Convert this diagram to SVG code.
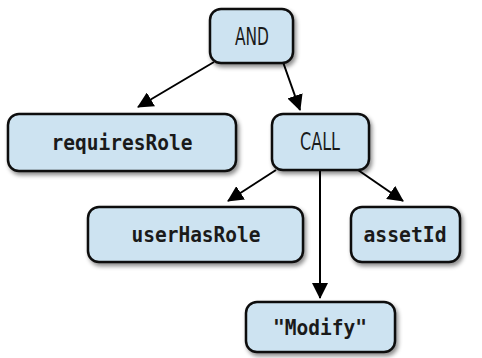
<svg xmlns="http://www.w3.org/2000/svg" width="482" height="358" viewBox="0 0 482 358">
<defs>
<filter id="sh" x="-20%" y="-20%" width="150%" height="160%">
<feDropShadow dx="2" dy="3" stdDeviation="2" flood-color="#000" flood-opacity="0.45"/>
</filter>
<marker id="ah" markerWidth="16" markerHeight="16" viewBox="0 0 16 16" refX="15" refY="8" orient="auto" markerUnits="userSpaceOnUse">
<path d="M0,0 L16,8 L0,16 Z" fill="#000"/>
</marker>
<style>
.box{fill:#cde3f1;stroke:#111;stroke-width:2.5;filter:url(#sh)}
.mono{font-family:"DejaVu Sans Mono","Liberation Mono",monospace;font-weight:bold;font-size:22px;fill:#1a1a1a;text-anchor:middle}
.cond{font-family:"DejaVu Sans","Liberation Sans",sans-serif;font-size:24px;fill:#1a1a1a;text-anchor:middle}
.edge{stroke:#000;stroke-width:2;fill:none;marker-end:url(#ah)}
</style>
</defs>
<g id="connectors">
<line class="edge" x1="214" y1="62" x2="138" y2="107"/>
<line class="edge" x1="283" y1="62" x2="300" y2="110"/>
<line class="edge" x1="276" y1="170" x2="228" y2="201"/>
<line class="edge" x1="320" y1="170" x2="320" y2="298"/>
<line class="edge" x1="358" y1="170" x2="403" y2="201"/>
</g>
<g id="and"><rect class="box" x="210" y="9" width="83" height="54" rx="11"/><text class="cond" x="252" y="45" textLength="34" lengthAdjust="spacingAndGlyphs">AND</text></g>
<g id="requiresRole"><rect class="box" x="8" y="114" width="228" height="57" rx="11"/><text class="mono" x="122" y="150" textLength="141" lengthAdjust="spacingAndGlyphs">requiresRole</text></g>
<g id="call"><rect class="box" x="272" y="114" width="97" height="56" rx="11"/><text class="cond" x="320" y="150" textLength="40" lengthAdjust="spacingAndGlyphs">CALL</text></g>
<g id="userHasRole"><rect class="box" x="88" y="207" width="215" height="55" rx="11"/><text class="mono" x="196" y="242" textLength="129" lengthAdjust="spacingAndGlyphs">userHasRole</text></g>
<g id="assetId"><rect class="box" x="351" y="207" width="109" height="55" rx="11"/><text class="mono" x="405" y="242" textLength="83" lengthAdjust="spacingAndGlyphs">assetId</text></g>
<g id="modify"><rect class="box" x="246" y="302" width="149" height="50" rx="11"/><text class="mono" x="320" y="335" textLength="94" lengthAdjust="spacingAndGlyphs">"Modify"</text></g>
</svg>
